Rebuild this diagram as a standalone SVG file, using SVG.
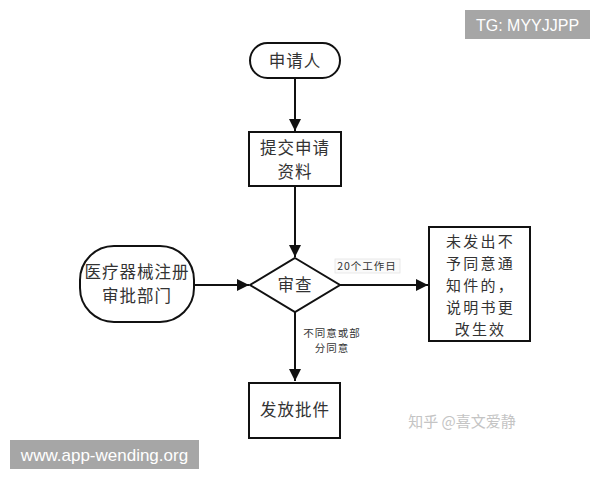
<svg xmlns="http://www.w3.org/2000/svg" width="600" height="480" viewBox="0 0 600 480">
<style>
.shape{fill:#ffffff;stroke:#111;stroke-width:2}
.t{font-family:"Noto Sans CJK SC","Liberation Sans",sans-serif;font-size:16.5px;fill:#333;text-anchor:middle;letter-spacing:1px}
.n{font-family:"Noto Sans CJK SC","Liberation Sans",sans-serif;font-size:15px;fill:#333;text-anchor:middle;letter-spacing:2.2px}
.s{font-family:"Noto Sans CJK SC","Liberation Sans",sans-serif;font-size:10.5px;fill:#333;text-anchor:middle;letter-spacing:1px}
.edge{stroke:#111;stroke-width:2;fill:none;marker-end:url(#ah)}
.wm{font-family:"Liberation Sans",sans-serif;fill:#fff;text-anchor:middle}
</style>
<defs>
<marker id="ah" viewBox="0 0 10 10" refX="10" refY="5" markerWidth="6" markerHeight="6" markerUnits="strokeWidth" orient="auto">
<path d="M0,0 L10,5 L0,10 z" fill="#111"/>
</marker>
</defs>
<rect width="600" height="480" fill="#ffffff"/>
<g id="connectors">
<line class="edge" x1="295" y1="78" x2="295" y2="131"/>
<line class="edge" x1="295" y1="186" x2="295" y2="257"/>
<line class="edge" x1="194" y1="285" x2="249" y2="285"/>
<line class="edge" x1="340" y1="285" x2="428" y2="285"/>
<line class="edge" x1="295" y1="312" x2="295" y2="381"/>
<rect x="335" y="259" width="65" height="14" fill="#fafafa" stroke="#e4e4e4" stroke-width="0.8"/>
<text class="s" x="367" y="270">20个工作日</text>
<text class="s" x="332" y="337">不同意或部</text>
<text class="s" x="332" y="352">分同意</text>
</g>
<g id="applicant">
<rect class="shape" x="250" y="43" width="90" height="35" rx="17.5"/>
<text class="t" x="295" y="67">申请人</text>
</g>
<g id="submit">
<rect class="shape" x="249" y="132" width="92" height="54"/>
<text class="t" x="295" y="154">提交申请</text>
<text class="t" x="295" y="178">资料</text>
</g>
<g id="review">
<polygon class="shape" points="295,258 340,285 295,312 250,285"/>
<text class="t" x="295" y="291">审查</text>
</g>
<g id="dept">
<rect class="shape" x="80" y="246" width="114" height="76" rx="34"/>
<text class="t" x="137" y="278">医疗器械注册</text>
<text class="t" x="137" y="302">审批部门</text>
</g>
<g id="notice">
<rect class="shape" x="429" y="227" width="101" height="114"/>
<text class="n" x="480.5" y="247">未发出不</text>
<text class="n" x="480.5" y="269">予同意通</text>
<text class="n" x="480.5" y="291">知件的，</text>
<text class="n" x="480.5" y="313">说明书更</text>
<text class="n" x="480.5" y="335">改生效</text>
</g>
<g id="approve">
<rect class="shape" x="249" y="383" width="91" height="55"/>
<text class="t" x="295" y="416">发放批件</text>
</g>
<g id="watermarks">
<rect x="465" y="10" width="125" height="29" fill="#a6a6a6"/>
<text class="wm" x="527.5" y="31" font-size="16">TG: MYYJJPP</text>
<rect x="10" y="440" width="189" height="29" fill="#a6a6a6"/>
<text class="wm" x="104.5" y="461" font-size="17">www.app-wending.org</text>
<text x="462" y="427" font-family="Noto Sans CJK SC,sans-serif" font-size="15" fill="#c4c4c4" text-anchor="middle">知乎 @喜文爱静</text>
</g>
</svg>
